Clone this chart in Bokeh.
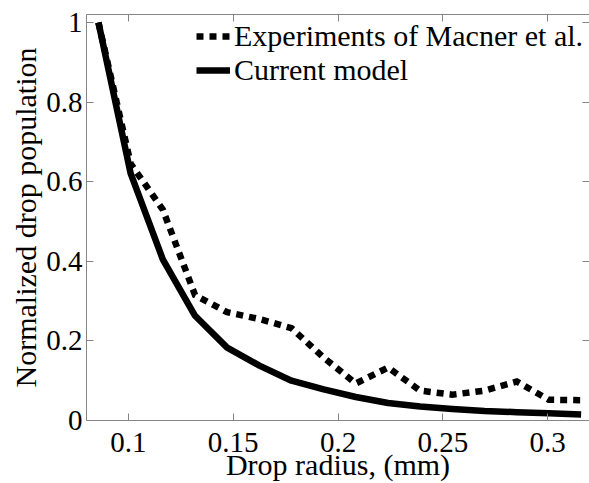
from bokeh.plotting import figure
from bokeh.models import Range1d, FixedTicker, LinearAxis, Legend, LegendItem
from bokeh.embed import file_html
from bokeh.resources import INLINE

# ---- data ----
radius_mm = [0.0857, 0.1011, 0.1164, 0.1318, 0.1471, 0.1625, 0.1778, 0.1932,
             0.2085, 0.2239, 0.2392, 0.2546, 0.2699, 0.2853, 0.3006, 0.3160]
experiments = [1.0, 0.645, 0.53, 0.315, 0.272, 0.255, 0.232, 0.158,
               0.093, 0.133, 0.075, 0.065, 0.075, 0.098, 0.052, 0.051]
current_model = [1.0, 0.62, 0.405, 0.263, 0.183, 0.138, 0.10, 0.078,
                 0.059, 0.044, 0.035, 0.029, 0.024, 0.021, 0.018, 0.015]

x_ticks = [0.1, 0.15, 0.2, 0.25, 0.3]
x_tick_labels = ["0.1", "0.15", "0.2", "0.25", "0.3"]
y_ticks = [0, 0.2, 0.4, 0.6, 0.8, 1.0]
y_tick_labels = ["0", "0.2", "0.4", "0.6", "0.8", "1"]

series_names = ["Experiments of Macner et al.", "Current model"]
x_title = "Drop radius, (mm)"
y_title = "Normalized drop population"

FONT = "Liberation Serif"
AXIS_GRAY = "#858585"

p = figure(width=589, height=483, output_backend="svg", toolbar_location=None,
           x_range=Range1d(0.08, 0.32), y_range=Range1d(0, 1.02),
           min_border_left=86, min_border_right=0, min_border_top=14,
           min_border_bottom=61)
p.xgrid.visible = False
p.ygrid.visible = False
p.outline_line_color = None
p.background_fill_color = "white"
p.border_fill_color = "white"

r_exp = p.line(radius_mm, experiments, line_color="black", line_width=6.5,
               line_dash="7 6", line_cap="butt", line_join="miter")
r_mod = p.line(radius_mm, current_model, line_color="black", line_width=6.5,
               line_join="round")


def style_axis(ax, ticks, labels, show_labels=True):
    ax.ticker = FixedTicker(ticks=ticks)
    if show_labels:
        ax.major_label_overrides = {t: l for t, l in zip(ticks, labels)}
    else:
        ax.major_label_overrides = {t: "" for t in ticks}
        ax.major_label_text_font_size = "0px"
        ax.major_label_standoff = 0
    ax.axis_line_color = AXIS_GRAY
    ax.major_tick_line_color = AXIS_GRAY
    ax.major_tick_in = 7
    ax.major_tick_out = 0
    ax.minor_tick_line_color = None
    ax.major_label_text_font = FONT
    ax.major_label_text_color = "black"
    ax.axis_label_text_font = FONT
    ax.axis_label_text_font_style = "normal"
    ax.axis_label_text_color = "black"


xa = p.xaxis[0]
style_axis(xa, x_ticks, x_tick_labels)
xa.major_label_text_font_size = "29px"
xa.major_label_standoff = 12
xa.axis_label = x_title
xa.axis_label_text_font_size = "30px"
xa.axis_label_standoff = -7

ya = p.yaxis[0]
style_axis(ya, y_ticks, y_tick_labels)
ya.major_label_text_font_size = "29px"
ya.major_label_standoff = 4
ya.axis_label = y_title
ya.axis_label_text_font_size = "30px"
ya.axis_label_standoff = 1

top_ax = LinearAxis()
style_axis(top_ax, x_ticks, x_tick_labels, show_labels=False)
p.add_layout(top_ax, "above")

right_ax = LinearAxis()
style_axis(right_ax, y_ticks, y_tick_labels, show_labels=False)
p.add_layout(right_ax, "right")

legend = Legend(items=[LegendItem(label=series_names[0], renderers=[r_exp]),
                       LegendItem(label=series_names[1], renderers=[r_mod])],
                location=(110, 333), padding=0, margin=0, spacing=0,
                glyph_width=34, glyph_height=30, label_standoff=4,
                label_text_font=FONT, label_text_font_size="30px",
                label_text_color="black",
                border_line_color=None, background_fill_alpha=0)
p.add_layout(legend)

open("out.html", "w").write(file_html(p, INLINE))
